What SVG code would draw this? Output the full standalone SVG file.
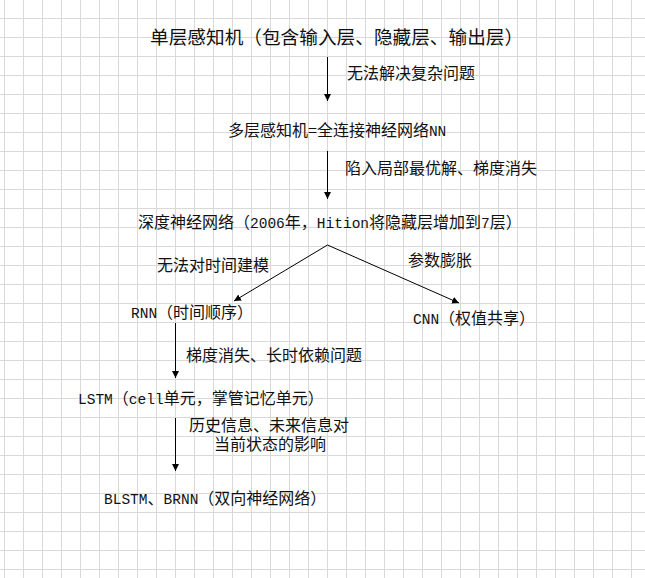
<svg xmlns="http://www.w3.org/2000/svg" width="645" height="578" viewBox="0 0 645 578">
<style>
text{font-family:"Noto Sans CJK SC","Noto Sans",sans-serif;font-size:16px;fill:#111}
.t{font-size:18.67px}
.m{font-family:"Liberation Mono",monospace;font-size:14.5px}
.ln{stroke:#000;stroke-width:1;fill:none}
</style>
<defs>
<pattern id="grid" x="4" y="18" width="19" height="19" patternUnits="userSpaceOnUse">
<path d="M0.5 0V19M0 0.5H19" stroke="#d9d9d9" stroke-width="1" fill="none"/>
</pattern>
<marker id="ah" markerWidth="8" markerHeight="8" refX="7" refY="3.5" orient="auto" markerUnits="userSpaceOnUse">
<path d="M0 0L7 3.5L0 7Z" fill="#000"/>
</marker>
</defs>
<rect width="645" height="578" fill="#fff"/>
<rect width="645" height="578" fill="url(#grid)"/>
<g id="connectors">
<path class="ln" d="M327.5 57V101" marker-end="url(#ah)"/>
<path class="ln" d="M327.5 151V199" marker-end="url(#ah)"/>
<path class="ln" d="M327.5 245L234 301" marker-end="url(#ah)"/>
<path class="ln" d="M327.5 245L459 303" marker-end="url(#ah)"/>
<path class="ln" d="M175.5 323V378" marker-end="url(#ah)"/>
<path class="ln" d="M175.5 418V471" marker-end="url(#ah)"/>
<text x="347" y="79">无法解决复杂问题</text>
<text x="345" y="174">陷入局部最优解、梯度消失</text>
<text x="157" y="271">无法对时间建模</text>
<text x="408" y="266">参数膨胀</text>
<text x="186" y="361">梯度消失、长时依赖问题</text>
<text><tspan x="189" y="431">历史信息、未来信息对</tspan><tspan x="214" y="450">当前状态的影响</tspan></text>
</g>
<g id="n1"><text class="t" x="150" y="44">单层感知机（包含输入层、隐藏层、输出层）</text></g>
<g id="n2"><text x="228" y="136">多层感知机=全连接神经网络<tspan class="m">NN</tspan></text></g>
<g id="n3"><text x="138" y="227.5">深度神经网络（<tspan class="m">2006</tspan>年，<tspan class="m">Hition</tspan>将隐藏层增加到<tspan class="m">7</tspan>层）</text></g>
<g id="n4"><text x="131" y="318"><tspan class="m">RNN</tspan>（时间顺序）</text></g>
<g id="n5"><text x="413" y="324"><tspan class="m">CNN</tspan>（权值共享）</text></g>
<g id="n6"><text x="78" y="404"><tspan class="m">LSTM</tspan>（<tspan class="m">cell</tspan>单元，掌管记忆单元）</text></g>
<g id="n7"><text x="104" y="504"><tspan class="m">BLSTM</tspan>、<tspan class="m">BRNN</tspan>（双向神经网络）</text></g>
</svg>
